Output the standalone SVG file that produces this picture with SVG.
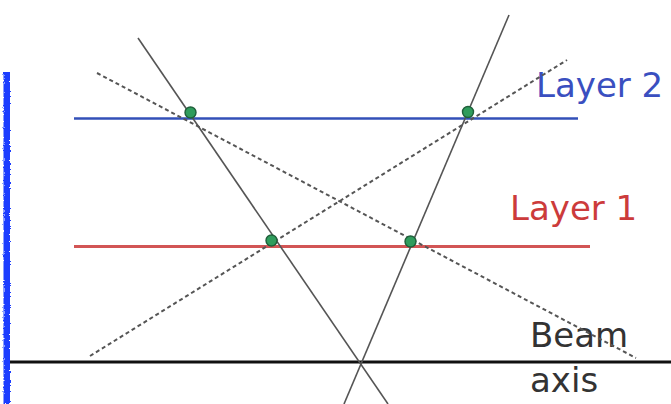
<svg xmlns="http://www.w3.org/2000/svg" width="671" height="404" viewBox="0 0 671 404">
  <style>
    .label { font-family: "DejaVu Sans", "Liberation Sans", sans-serif; font-size: 34px; }
    .track { stroke: #555; stroke-width: 1.6; fill: none; }
    .cand  { stroke: #555; stroke-width: 2; stroke-dasharray: 4 3; fill: none; }
    .hit   { fill: #2f9c5c; stroke: #1f5f3a; stroke-width: 1.4; }
  </style>
  <defs>
    <filter id="rough" filterUnits="userSpaceOnUse" x="0" y="60" width="20" height="350">
      <feTurbulence type="fractalNoise" baseFrequency="0.7" numOctaves="2" seed="3" result="noise"/>
      <feDisplacementMap in="SourceGraphic" in2="noise" scale="3" xChannelSelector="R" yChannelSelector="G"/>
    </filter>
  </defs>

  <rect width="671" height="404" fill="#ffffff"/>

  <!-- rough vertical marker on the left -->
  <g id="edge-marker">
    <rect x="3.5" y="72" width="6.5" height="332" fill="#1a3cff" filter="url(#rough)"/>
  </g>

  <!-- beam axis -->
  <g id="beam-axis">
    <line x1="10" y1="362" x2="671" y2="362" stroke="#111" stroke-width="3"/>
    <text class="label" x="530" y="347" fill="#333">Beam</text>
    <text class="label" x="530" y="392" fill="#333">axis</text>
  </g>

  <!-- detector layers -->
  <g id="layer2">
    <line x1="74" y1="118.5" x2="578" y2="118.5" stroke="#3350b8" stroke-width="2.6"/>
    <text class="label" x="536" y="97" fill="#3a4fc0">Layer 2</text>
  </g>
  <g id="layer1">
    <line x1="74" y1="246.5" x2="590" y2="246.5" stroke="#d25555" stroke-width="3"/>
    <text class="label" x="510" y="220" fill="#cc3b3b">Layer 1</text>
  </g>

  <!-- track lines: solid = true tracks, dashed = fake combinations -->
  <g id="connectors">
    <line class="track" x1="138" y1="38" x2="388" y2="404"/>
    <line class="track" x1="509" y1="15" x2="344" y2="404"/>
    <line class="cand" x1="97" y1="73" x2="636" y2="358"/>
    <line class="cand" x1="90" y1="356" x2="567" y2="60"/>
  </g>

  <!-- hits -->
  <g id="hit-l2-a"><circle class="hit" cx="190.5" cy="112.5" r="5.5"/></g>
  <g id="hit-l2-b"><circle class="hit" cx="468" cy="112" r="5.5"/></g>
  <g id="hit-l1-a"><circle class="hit" cx="271.5" cy="240.5" r="5.5"/></g>
  <g id="hit-l1-b"><circle class="hit" cx="410.5" cy="241.5" r="5.5"/></g>
</svg>
